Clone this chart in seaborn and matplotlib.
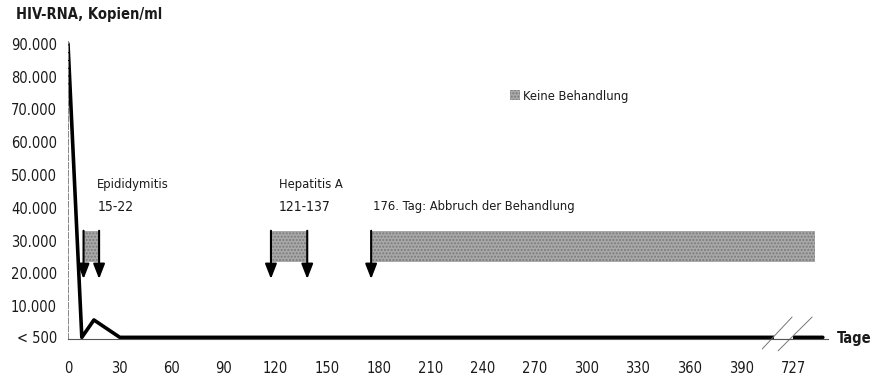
import matplotlib
matplotlib.use("Agg")
import matplotlib.pyplot as plt
import seaborn as sns
import pandas as pd
from matplotlib.patches import Patch

# viral load over time (days 0..30 then plateau; 727 sits after the axis break)
days = [0, 8, 15, 30, 390, 727, 744]
copies = [90000, 500, 5800, 500, 500, 500, 500]

x_ticks = [0, 30, 60, 90, 120, 150, 180, 210, 240, 270, 300, 330, 360, 390, 727]
y_ticks = [500, 10000, 20000, 30000, 40000, 50000, 60000, 70000, 80000, 90000]
y_labels = ['< 500', '10.000', '20.000', '30.000', '40.000', '50.000',
            '60.000', '70.000', '80.000', '90.000']

# treatment interruptions (arrow start, arrow end) in plotted positions
episodes = [('Epididymitis', '15-22', 9, 18),
            ('Hepatitis A', '121-137', 117.5, 138.5)]
stop_day = 175.5
stop_end = 432.5


def pos(d):
    # compress the axis after 390 days
    return d if d <= 390 else 420 + (d - 727)


sns.set_style('white')
plt.rcParams['font.family'] = ['DejaVu Sans']
plt.rcParams['font.stretch'] = 'condensed'
plt.rcParams['text.color'] = '#1a1a1a'

df = pd.DataFrame({'pos': [pos(d) for d in days], 'copies': copies})

fig = plt.figure(figsize=(8.73, 3.78), dpi=100)
ax = fig.add_axes([68 / 873, 39 / 378, 760 / 873, 298.5 / 378])

sns.lineplot(data=df, x='pos', y='copies', color='black', linewidth=2.6, ax=ax)

ax.set_xlim(0, 440)
ax.set_ylim(0, 91000)
ax.set_xticks([pos(t) for t in x_ticks])
ax.set_xticklabels([str(t) for t in x_ticks], fontsize=10.5, color='#1a1a1a')
ax.set_yticks(y_ticks)
ax.set_yticklabels(y_labels, fontsize=10.5, color='#1a1a1a')
ax.tick_params(axis='both', length=4, width=0.6, color='#777777', pad=12)
ax.tick_params(axis='y', pad=4)
ax.set_xlabel('')
ax.set_ylabel('')
for s in ['top', 'right']:
    ax.spines[s].set_visible(False)
ax.spines['left'].set_linestyle((0, (6, 2)))
ax.spines['left'].set_color('#888888')
ax.spines['left'].set_linewidth(0.7)
ax.spines['bottom'].set_color('#555555')
ax.spines['bottom'].set_linewidth(0.8)

box_kw = dict(facecolor='#a9a9a9', edgecolor='#7a7a7a', hatch='.....', linewidth=0)
box_lo, box_hi = 23500, 33000
arrow_kw = dict(arrowstyle='-|>,head_width=0.35,head_length=0.9',
                color='black', lw=1.5, shrinkA=0, shrinkB=0)
lab_size = 9.3

for name, span, a, b in episodes:
    ax.fill_between([a, b], box_lo, box_hi, **box_kw)
    for x in (a, b):
        ax.annotate('', xy=(x, 18300), xytext=(x, box_hi), arrowprops=arrow_kw)
    tx = a + 8 if name == 'Epididymitis' else a + 4.5
    ax.text(tx, 47000, name, fontsize=lab_size, va='center')
    ax.text(tx, 40300, span, fontsize=10, va='center')

ax.fill_between([stop_day, stop_end], box_lo, box_hi, **box_kw)
ax.annotate('', xy=(stop_day, 18300), xytext=(stop_day, box_hi), arrowprops=arrow_kw)
ax.text(stop_day + 1, 40300, '176. Tag: Abbruch der Behandlung', fontsize=lab_size, va='center')

# axis break marks, with the line interrupted between them
ax.plot([409, 420], [500, 500], color='white', lw=3.2, solid_capstyle='butt')
ax.plot([409, 420], [0, 0], color='#555555', lw=0.8)
ax.plot([401.9, 419.2], [-3050, 6700], color='#777777', lw=0.7, clip_on=False)
ax.plot([411.1, 430.8], [-3600, 6700], color='#777777', lw=0.7, clip_on=False)

ax.legend(handles=[Patch(**box_kw, label='Keine Behandlung')], loc='center left',
          bbox_to_anchor=(0.566, 0.814), frameon=False, fontsize=lab_size,
          handlelength=0.8, handleheight=0.8, handletextpad=0.25)

fig.text(16 / 873, 1 - 14 / 378, 'HIV-RNA, Kopien/ml', fontsize=10.5,
         fontweight='bold', va='center')
fig.text(837 / 873, 39 / 378, 'Tage', fontsize=10.5, fontweight='bold', va='center')

fig.savefig('out.png', dpi=100)
